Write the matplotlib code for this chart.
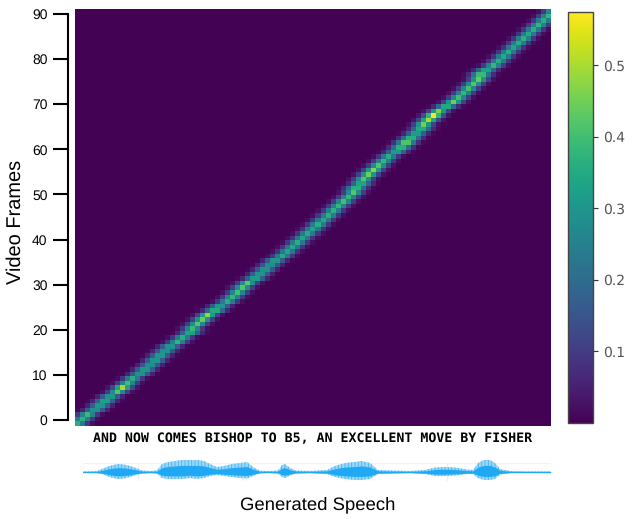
import numpy as np
import matplotlib
matplotlib.use("Agg")
import matplotlib.pyplot as plt

# attention alignment, one entry per row of the heatmap
peak_col = [0, 1, 2, 3.5, 4.5, 5.5, 6.5, 8, 9, 10, 11, 12.5, 13.5, 14.5, 15.5, 16.5,
            17.5, 18.5, 20, 21, 22.5, 23, 24, 25, 26, 27.5, 28.5, 30, 31, 32, 33,
            34, 35.5, 36.5, 37.5, 38.5, 39.5, 41, 42, 43, 44, 45, 46, 47, 48, 49,
            50, 51, 52, 53, 54, 55, 55.5, 56.5, 57, 58, 59, 60, 61, 62, 63.5, 64.5,
            65.5, 66.5, 67.5, 68.5, 69, 70, 71, 72, 73.5, 75, 76, 77, 78, 79, 80,
            80.5, 81.5, 83, 84, 85, 86, 87, 88, 89, 90, 91, 92, 93, 94, 95]
peak_val = [0.36, 0.37, 0.39, 0.35, 0.37, 0.39, 0.36, 0.42, 0.50, 0.40, 0.36, 0.35,
            0.36, 0.34, 0.36, 0.37, 0.35, 0.36, 0.38, 0.36, 0.40, 0.39, 0.42, 0.44,
            0.48, 0.42, 0.37, 0.36, 0.38, 0.40, 0.42, 0.43, 0.38, 0.36, 0.35, 0.34,
            0.36, 0.35, 0.34, 0.35, 0.36, 0.34, 0.35, 0.34, 0.36, 0.35, 0.36, 0.37,
            0.38, 0.40, 0.38, 0.42, 0.44, 0.40, 0.42, 0.45, 0.47, 0.42, 0.38, 0.36,
            0.38, 0.44, 0.50, 0.44, 0.38, 0.42, 0.45, 0.50, 0.57, 0.46, 0.42, 0.45,
            0.40, 0.38, 0.40, 0.42, 0.44, 0.47, 0.40, 0.38, 0.36, 0.35, 0.36, 0.34,
            0.36, 0.37, 0.35, 0.36, 0.38, 0.36, 0.38, 0.40]
band_offsets = [-4, -3, -2, -1, 0, 1, 2, 3, 4]
band_weights = [0.0, 0.06, 0.25, 0.66, 1.0, 0.66, 0.25, 0.06, 0.0]
n_cols = 95
background = 0.004

# waveform envelope, half heights above and below the centre line
wave_t = [83, 92, 97, 102, 108, 113, 118, 124, 130, 136, 142, 150, 157, 162, 168, 175,
          182, 190, 197, 204, 210, 217, 224, 232, 240, 247, 253, 260, 270, 278, 282,
          285, 290, 296, 310, 327, 335, 345, 355, 362, 370, 378, 390, 410, 425, 435,
          445, 455, 467, 473, 478, 484, 490, 495, 500, 510, 525, 551]
wave_up = [0.5, 0.7, 1, 3, 5.5, 7, 8, 7.5, 6, 4, 1.5, 1, 1.5, 8, 10, 11, 12, 12, 12,
           11, 8, 5, 6, 8, 9, 10, 5, 1.2, 1, 1.5, 7, 8, 4, 1.5, 1, 2, 6, 9, 10, 11, 9,
           2, 1.5, 1, 2, 4.5, 5, 4.5, 2.5, 2, 9, 12, 12, 9, 3, 1, 0.6, 0.5]
wave_dn = [0.5, 0.7, 1, 2, 4.5, 6, 7, 6.5, 5, 3, 1.5, 1, 1.5, 6, 7, 7, 7, 6, 7, 6, 4,
           3, 4, 5, 6, 6.5, 4, 1.2, 1, 1.5, 5, 6, 3.5, 1.5, 1, 2, 5, 7, 8, 8, 7, 2,
           1.5, 1, 2, 4, 4, 3.5, 2, 2, 6, 8, 8, 7, 2.5, 1, 0.6, 0.5]
wave_grid = [138, 242, 345, 447]

y_ticks = [0, 10, 20, 30, 40, 50, 60, 70, 80, 90]
cbar_ticks = [0.1, 0.2, 0.3, 0.4, 0.5]
caption = "AND NOW COMES BISHOP TO B5, AN EXCELLENT MOVE BY FISHER"

W, H = 635, 519
plt.rcParams['font.family'] = ['Liberation Sans', 'DejaVu Sans']
plt.rcParams['hatch.linewidth'] = 0.6
plt.rcParams['text.hinting'] = 'no_hinting'


def px_axes(x0, y0, x1, y1):
    # axes box given in picture pixels, y measured from the top
    return fig.add_axes([x0 / W, 1 - y1 / H, (x1 - x0) / W, (y1 - y0) / H])


fig = plt.figure(figsize=(W / 100, H / 100), dpi=100)

# build the matrix from the rows above
attn = np.full((len(peak_col), n_cols), background)
cols = np.arange(n_cols)
for r in range(len(peak_col)):
    w = np.interp(cols - peak_col[r], band_offsets, band_weights)
    attn[r] = np.maximum(background, peak_val[r] * w)

ax = px_axes(75, 9, 551, 426)
y_lo, y_hi = -1.33, 91.1
im = ax.imshow(attn, origin='lower', aspect='auto', cmap='viridis', vmin=0.0, vmax=0.574,
               extent=(-0.5, n_cols - 0.5, y_lo, y_hi), interpolation='nearest')
ax.set_ylim(y_lo, y_hi)
ax.set_xticks([])
ax.set_yticks(y_ticks)
ax.tick_params(axis='y', length=10.8, width=1.5, pad=4, labelsize=10)
for s in ['top', 'right', 'bottom']:
    ax.spines[s].set_visible(False)
ax.spines['left'].set_position(('outward', 5))
ax.spines['left'].set_bounds(0, 90)
ax.spines['left'].set_linewidth(1.5)
ax.set_ylabel("Video Frames", fontsize=14.4, labelpad=5, y=0.49)

cax = px_axes(568, 12, 593, 423)
cb = fig.colorbar(im, cax=cax)
cb.set_ticks(cbar_ticks)
cb.ax.tick_params(labelsize=10, labelcolor='#555555', color='#333333', length=3.5, width=0.8)
for lab in cb.ax.get_yticklabels():
    lab.set_family('DejaVu Sans')
cb.outline.set_edgecolor('#444444')
cb.outline.set_linewidth(1.0)

# speech waveform
wax = px_axes(83, 463, 551, 481)
wax.set_xlim(83, 551)
wax.set_ylim(-9, 9)
wax.axis('off')
for g in wave_grid:
    wax.axvline(g, color='#eeeeee', lw=0.8, zorder=0)
wax.axhline(9, color='#f2f2f2', lw=0.8, zorder=0)
wax.axhline(-8.8, color='#f2f2f2', lw=0.8, zorder=0)
up = np.array(wave_up)
dn = np.array(wave_dn)
wax.fill_between(wave_t, -dn, up, facecolor='#9bd7f9', edgecolor='#3fb4f5', hatch='|||||',
                 lw=0, clip_on=False)
wax.fill_between(wave_t, -dn * 0.55, up * 0.55, color='#1fa9f5', lw=0, clip_on=False)
wax.plot(wave_t, np.zeros(len(wave_t)), color='#1fa9f5', lw=1.0)

fig.text(312.5 / W, 1 - 439 / H, caption, family='DejaVu Sans Mono', weight='bold',
         fontsize=9.5, ha='center', va='center')
fig.text(317.5 / W, 1 - 505 / H, "Generated Speech", fontsize=13.3, ha='center', va='center')

fig.savefig('out.png', dpi=100)
